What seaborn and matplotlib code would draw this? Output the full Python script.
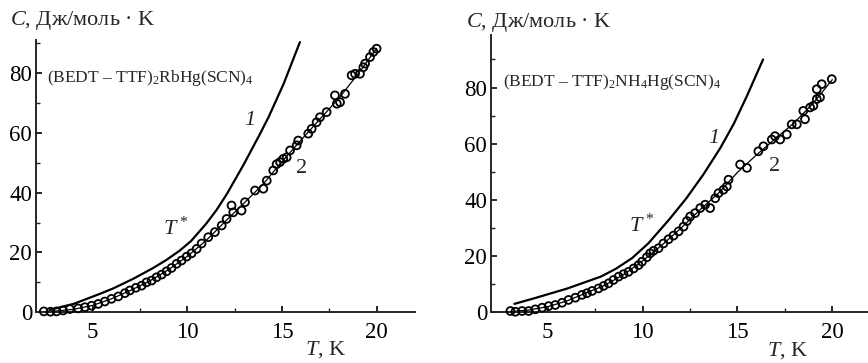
import matplotlib
matplotlib.use("Agg")
import matplotlib.pyplot as plt
from matplotlib.ticker import FixedLocator
import seaborn as sns

# ---------------- data: (BEDT-TTF)2RbHg(SCN)4 ----------------
rb_line1_T = [2.75, 3.6, 4.0, 5.4, 6.1, 7.15, 8.2, 8.9, 9.6, 10.2, 11.0, 11.55, 12.1, 13.0, 13.85, 14.3, 15.1, 15.95]
rb_line1_C = [0.8, 2.2, 2.8, 6.2, 8.0, 11.2, 14.8, 17.5, 20.6, 23.8, 29.6, 34.2, 39.6, 49.6, 59.7, 65.3, 76.5, 90.3]

rb_line2_T = [2.4, 4, 5, 6, 7, 8, 9, 10, 11, 12, 13, 14, 15, 16, 17, 18, 19, 20]
rb_line2_C = [0.0, 1.0, 2.3, 4.5, 7.3, 10.4, 14.2, 18.7, 24.0, 30.3, 36.5, 42.8, 50.3, 57.5, 64.5, 71.5, 79.5, 88.2]

rb_data_T = [2.43, 2.78, 3.1, 3.45, 3.8, 4.24, 4.6, 4.95, 5.3, 5.65, 6.0, 6.36, 6.71, 6.97,
             7.29, 7.59, 7.85, 8.12, 8.38, 8.65, 8.91, 9.17, 9.44, 9.7, 9.97, 10.23, 10.5,
             10.76, 11.11, 11.46, 11.82, 12.08, 12.34, 12.43, 12.87, 13.05, 13.58, 14.02,
             14.2, 14.54, 14.72, 14.9, 15.07, 15.25, 15.43, 15.78, 15.86, 16.39, 16.57,
             16.83, 17.01, 17.36, 17.8, 17.9, 18.07, 18.33, 18.68, 18.86, 19.12, 19.3,
             19.39, 19.65, 19.83, 20.0]
rb_data_C = [0.3, 0.2, 0.3, 0.6, 1.1, 1.3, 1.7, 2.2, 2.8, 3.6, 4.5, 5.3, 6.4, 7.3,
             8.2, 8.9, 10.0, 10.6, 11.7, 12.6, 13.7, 14.8, 16.2, 17.3, 18.6, 19.7, 21.2,
             23.0, 25.1, 26.8, 29.0, 31.2, 35.7, 33.4, 34.0, 36.8, 40.7, 41.3,
             44.0, 47.4, 49.5, 50.2, 51.3, 51.8, 54.1, 55.8, 57.4, 59.7, 61.3,
             63.5, 65.2, 66.9, 72.5, 69.7, 70.2, 73.0, 79.2, 79.7, 79.7, 81.9,
             83.1, 85.3, 87.0, 88.1]

# ---------------- data: (BEDT-TTF)2NH4Hg(SCN)4 ----------------
nh_line1_T = [3.25, 4.3, 6.05, 7.8, 8.6, 9.45, 10.3, 11.4, 12.3, 13.2, 14.1, 14.8, 15.5, 16.35]
nh_line1_C = [3.0, 5.0, 8.5, 12.7, 15.5, 19.3, 24.5, 33.0, 40.5, 49.0, 58.5, 67.0, 77.0, 90.0]

nh_line2_T = [3.0, 4, 5, 6, 7, 8, 9, 10, 11, 12, 13, 14, 15, 16, 17, 18, 19, 20]
nh_line2_C = [0.2, 0.8, 2.0, 4.0, 6.8, 9.6, 13.4, 18.3, 23.8, 29.8, 36.3, 42.4, 49.8, 56.0, 61.8, 67.5, 74.5, 82.8]

nh_data_T = [3.04, 3.3, 3.65, 4.0, 4.35, 4.71, 5.05, 5.4, 5.76, 6.1, 6.46, 6.81, 7.07, 7.34,
             7.68, 7.95, 8.21, 8.47, 8.74, 9.0, 9.26, 9.53, 9.79, 9.97, 10.23, 10.4, 10.58,
             10.84, 11.1, 11.37, 11.63, 11.9, 12.16, 12.34, 12.51, 12.77, 13.04, 13.3, 13.56,
             13.83, 14.0, 14.26, 14.44, 14.53, 15.14, 15.5, 16.1, 16.37, 16.81, 16.98, 17.25,
             17.6, 17.86, 18.13, 18.47, 18.56, 18.83, 19.0, 19.18, 19.35, 19.18, 19.44, 19.97]
nh_data_C = [0.46, 0.2, 0.46, 0.46, 1.05, 1.65, 2.2, 2.6, 3.4, 4.4, 5.2, 6.2, 6.8, 7.6,
             8.5, 9.4, 10.3, 11.5, 12.7, 13.6, 14.4, 15.6, 16.8, 18.0, 19.6, 21.0, 21.9,
             22.8, 24.5, 26.0, 27.3, 28.8, 30.5, 32.5, 34.1, 35.3, 37.1, 38.3, 37.1,
             40.6, 42.4, 43.6, 44.8, 47.2, 52.6, 51.4, 57.3, 59.1, 61.5, 62.7, 61.5,
             63.3, 66.9, 66.9, 71.7, 68.7, 72.9, 73.5, 75.9, 76.5, 79.4, 81.2, 83.0]

x_major = [5, 10, 15, 20]
x_minor = [7.5, 12.5, 17.5]
y_major = [0, 20, 40, 60, 80]
y_minor = [10, 30, 50, 70, 90]

ylabel_text = r"$C$, Дж/моль · K"
xlabel_text = r"$T$, K"
rb_name = r"(BEDT – TTF)$_\mathregular{2}$RbHg(SCN)$_\mathregular{4}$"
nh_name = r"(BEDT – TTF)$_\mathregular{2}$NH$_\mathregular{4}$Hg(SCN)$_\mathregular{4}$"

# ---------------- style ----------------
sns.set_style("ticks")
plt.rcParams['font.family'] = ['Liberation Serif', 'DejaVu Serif']
plt.rcParams['mathtext.fontset'] = 'custom'
plt.rcParams['mathtext.rm'] = 'Liberation Serif'
plt.rcParams['mathtext.it'] = 'Liberation Serif:italic'
plt.rcParams['mathtext.bf'] = 'Liberation Serif:bold'
plt.rcParams['axes.linewidth'] = 1.4

W, H = 868, 363
fig = plt.figure(figsize=(W / 100, H / 100), dpi=100)
ax1 = fig.add_axes([35.7 / W, 1 - 312.3 / H, (414.5 - 35.7) / W, (312.3 - 40) / H])
ax2 = fig.add_axes([490.7 / W, 1 - 312.3 / H, (870.3 - 490.7) / W, (312.3 - 35) / H])


def draw(ax, l1T, l1C, l2T, l2C, dT, dC, ytop):
    sns.lineplot(x=l1T, y=l1C, ax=ax, color='black', linewidth=1.6, sort=False,
                 estimator=None)
    sns.lineplot(x=l2T, y=l2C, ax=ax, color='black', linewidth=0.9, sort=False,
                 estimator=None)
    sns.scatterplot(x=dT, y=dC, ax=ax, marker='o', s=32, facecolor='none',
                    edgecolor='black', linewidth=1.3, zorder=3, clip_on=False)
    ax.set_xlim(2, 22)
    ax.set_ylim(0, ytop)
    sns.despine(ax=ax)
    ax.set_xticks(x_major)
    ax.set_yticks(y_major)
    ax.xaxis.set_minor_locator(FixedLocator(x_minor))
    ax.yaxis.set_minor_locator(FixedLocator(y_minor))
    ax.tick_params(which='major', direction='in', length=4, width=1.2,
                   labelsize=16.5, colors='black')
    ax.tick_params(axis='x', which='major', pad=7)
    ax.tick_params(axis='y', which='major', pad=2.5)
    ax.tick_params(which='minor', direction='in', length=3, width=1.0)
    ax.set_xlabel('')
    ax.set_ylabel('')


draw(ax1, rb_line1_T, rb_line1_C, rb_line2_T, rb_line2_C, rb_data_T, rb_data_C, 91)
draw(ax2, nh_line1_T, nh_line1_C, nh_line2_T, nh_line2_C, nh_data_T, nh_data_C, 98.7)

# panel texts
ax1.text(2.59, 78.2, rb_name, fontsize=12.5, ha='left', va='center')
ax2.text(2.67, 82.0, nh_name, fontsize=12.5, ha='left', va='center')

ax1.text(13.31, 64.1, "1", fontsize=16, style='italic', ha='center', va='center')
ax1.text(16.04, 48.0, "2", fontsize=16, ha='center', va='center')
ax1.text(9.4, 28.0, r"$T^*$", fontsize=16, ha='center', va='center')

ax2.text(13.77, 61.9, "1", fontsize=16, style='italic', ha='center', va='center')
ax2.text(16.93, 51.8, "2", fontsize=16, ha='center', va='center')
ax2.text(9.95, 31.0, r"$T^*$", fontsize=16, ha='center', va='center')

# axis titles
fig.text(10 / W, 1 - 20 / H, ylabel_text, fontsize=16, ha='left', va='center')
fig.text(466 / W, 1 - 22 / H, ylabel_text, fontsize=16, ha='left', va='center')
fig.text(305 / W, 1 - 350 / H, xlabel_text, fontsize=16, ha='left', va='center')
fig.text(767 / W, 1 - 351 / H, xlabel_text, fontsize=16, ha='left', va='center')

fig.savefig("out.png", dpi=100)
